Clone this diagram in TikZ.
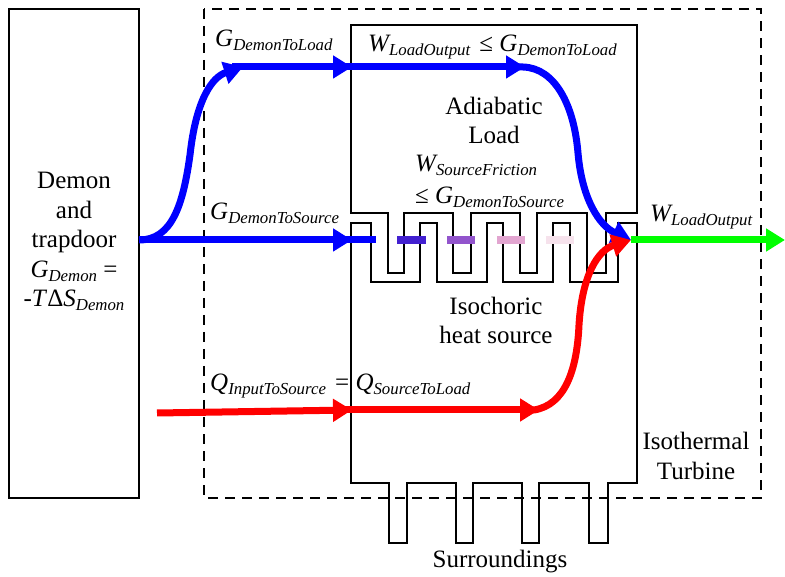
\documentclass[tikz,border=0pt]{standalone}
\usepackage{fontspec}
\setmainfont{Liberation Serif}
\usetikzlibrary{arrows.meta}
\newcommand{\flowsym}[2]{{\itshape #1\raisebox{-4pt}{\fontsize{16.8}{18}\selectfont #2}}}
\tikzset{
	wall/.style={draw=black, line width=1.9pt, line join=miter},
	flow/.style={line width=7pt, line cap=butt},
	head/.style={-{Triangle[length=19pt,width=22pt]}},
	fadebar/.style={line width=7.5pt},
	lab/.style={anchor=base west, inner sep=0pt},
	txt/.style={anchor=base, inner sep=0pt}
}
\begin{document}
\begin{tikzpicture}[x=1pt, y=-1pt, font=\fontsize{25}{29.5}\selectfont]
	\useasboundingbox (0,0) rectangle (785,577);
	\fill[white] (0,0) rectangle (785,577);
	\node[wall, minimum width=130pt, minimum height=489pt, inner sep=0pt] (demon) at (74,253.5) {};
	\draw[black, line width=1.8pt, dash pattern=on 10pt off 7pt] (204,9) rectangle (761,498);
	% load
	\draw[wall] (351,213)--(351,25)--(637,25)--(637,213)--(606,213)--(606,273)--(587,273)--(587,213)--(537,213)--(537,273)--(520,273)--(520,213)--(471,213)--(471,273)--(453,273)--(453,213)--(404,213)--(404,273)--(388,273)--(388,213)--cycle;
	% source
	\draw[wall] (351,223)--(371,223)--(371,282)--(420,282)--(420,223)--(437,223)--(437,282)--(487,282)--(487,223)--(503,223)--(503,282)--(553,282)--(553,223)--(570,223)--(570,282)--(618,282)--(618,223)--(637,223)--(637,483)--(608,483)--(608,543)--(589,543)--(589,483)--(539,483)--(539,543)--(522,543)--(522,483)--(473,483)--(473,543)--(456,543)--(456,483)--(407,483)--(407,543)--(389,543)--(389,483)--(351,483)--cycle;
	% flows
	\coordinate (start) at (139,240);
	\coordinate (topKnee) at (243,67);
	\coordinate (topLine) at (232,67);
	\coordinate (inLoad) at (352,67);
	\coordinate (loadLine) at (340,67);
	\coordinate (outKnee) at (525,67);
	\coordinate (curveStart) at (515,67);
	\coordinate (inSource) at (352,240);
	\coordinate (sourceLine) at (340,240);
	\coordinate (barEnd) at (376,240);
	\coordinate (meet) at (631,240);
	\coordinate (outEnd) at (785,240);
	\coordinate (heatIn) at (157,413);
	\coordinate (heatMid) at (352,410);
	\coordinate (heatLine) at (340,410);
	\coordinate (heatKnee) at (539,410);
	\coordinate (riseStart) at (530,410);
	\draw[flow, blue, head] (start) .. controls (172,240) and (183,205) .. (190,155) .. controls (196,100) and (212,77) .. (topKnee);
	\draw[flow, blue, head] (topLine)--(inLoad);
	\draw[flow, blue, head] (loadLine)--(outKnee);
	\draw[flow, blue, head] (start)--(inSource);
	\draw[flow, blue] (sourceLine)--(barEnd);
	\draw[fadebar, color={rgb,255:red,66;green,32;blue,208}] (397,240)--(426,240);
	\draw[fadebar, color={rgb,255:red,146;green,84;blue,204}] (447,240)--(475,240);
	\draw[fadebar, color={rgb,255:red,226;green,165;blue,208}] (497,240)--(525,240);
	\draw[fadebar, color={rgb,255:red,246;green,226;blue,236}] (546,240)--(574,240);
	\draw[flow, blue, head] (curveStart) -- (523,67) .. controls (555,68) and (574,105) .. (578,153) .. controls (582,200) and (600,226) .. (meet);
	\draw[flow, red, head] (heatIn)--(heatMid);
	\draw[flow, red, head] (heatLine)--(heatKnee);
	\draw[flow, red, head] (riseStart) -- (534,410) .. controls (565,405) and (577,370) .. (579,325) .. controls (582,275) and (598,250) .. (meet);
	\draw[flow, green, head] (meet)--(outEnd);
	% labels
	\node[txt, align=center] (demonText) at (74,307) {Demon\\and\\trapdoor\\\flowsym{G}{Demon} =\\-\textit{T}Δ\flowsym{S}{Demon}};
	\node[lab] (gLoad) at (215,47) {\flowsym{G}{DemonToLoad}};
	\node[lab] (gSource) at (210,220) {\flowsym{G}{DemonToSource}};
	\node[lab] (wBound) at (368,52) {\flowsym{W}{LoadOutput}\hspace{3pt} ≤ \flowsym{G}{DemonToLoad}};
	\node[txt, align=center] (loadText) at (494,144) {Adiabatic\\Load};
	\node[lab] (wFriction) at (415,172) {\flowsym{W}{SourceFriction}};
	\node[lab] (wLimit) at (415,204) {≤ \flowsym{G}{DemonToSource}};
	\node[txt, align=center] (sourceText) at (496,344) {Isochoric\\heat source};
	\node[lab] (qFlow) at (210,391) {\flowsym{Q}{InputToSource}\hspace{3pt} = \flowsym{Q}{SourceToLoad}};
	\node[lab] (wOut) at (650,222) {\flowsym{W}{LoadOutput}};
	\node[txt, align=center] (turbineText) at (696,479) {Isothermal\\Turbine};
	\node[txt] (surroundText) at (500,567) {Surroundings};
\end{tikzpicture}
\end{document}
